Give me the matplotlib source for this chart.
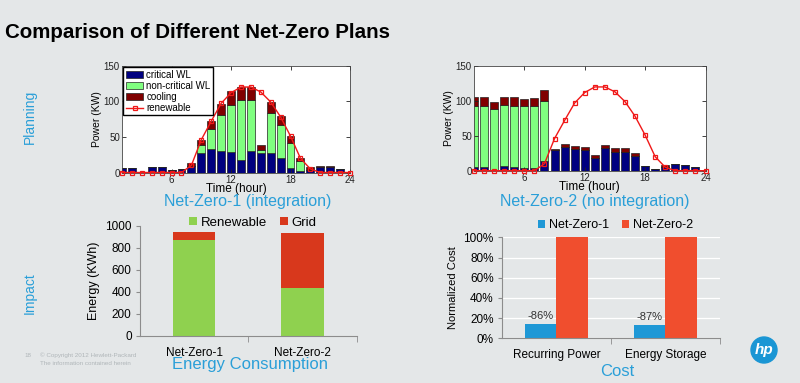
import numpy as np
import matplotlib
matplotlib.use('Agg')
from matplotlib import pyplot as plt
from matplotlib import font_manager
from matplotlib.patches import Circle
from matplotlib.ticker import PercentFormatter

plt.rcParams['font.family'] = ['Liberation Sans', 'DejaVu Sans']

# hourly power profiles (KW), hours 1..24
hours = list(range(1, 25))
renewable = [0, 0, 0, 0, 0, 0, 0, 10, 46, 72, 97, 112, 120, 120, 113, 99, 78, 51, 20, 5, 0, 0, 0, 0]

nz1_critical = [7, 6, 1, 8, 8, 3, 5, 9, 27, 33, 30, 29, 18, 30, 27, 27, 21, 6, 2, 4, 8, 8, 5, 1]
nz1_noncritical = [0, 0, 0, 0, 0, 0, 0, 0, 12, 28, 51, 66, 84, 72, 4, 57, 45, 36, 14, 0, 0, 0, 0, 0]
nz1_cooling = [0, 0, 0, 0, 0, 0, 0, 5, 7, 11, 15, 19, 18, 18, 7, 15, 13, 9, 4, 4, 1, 1, 0, 0]

nz2_critical = [6, 5, 0.5, 7, 6, 4, 4, 14, 29, 34, 31, 29, 18, 32, 27, 27, 21, 7, 3, 6, 9, 8, 5, 1]
nz2_noncritical = [87, 88, 88.5, 87, 87, 88, 88, 86, 0, 0, 0, 0, 0, 0, 0, 0, 0, 0, 0, 0, 0, 0, 0, 0]
nz2_cooling = [13, 12, 10, 12, 13, 10, 12, 15, 2, 4, 4, 5, 5, 5, 6, 6, 5, 0, 0, 2, 0, 0, 0, 0]

# energy consumption (KWh)
plans = ['Net-Zero-1', 'Net-Zero-2']
energy_renewable = [870, 430]
energy_grid = [75, 500]

# normalized cost
cost_items = ['Recurring Power', 'Energy Storage']
cost_nz1 = [0.14, 0.13]
cost_nz2 = [1.0, 1.0]
cost_notes = ['-86%', '-87%']

BG = '#e4e7e8'
HP_BLUE = '#2a9fd8'


def plot_power(ax, critical, noncritical, cooling, legend=False):
    h = np.array(hours)
    c = np.array(critical)
    n = np.array(noncritical)
    k = np.array(cooling)
    kw = dict(width=0.8, edgecolor='#222222', linewidth=0.5)
    b1 = ax.bar(h, c, color=(0, 0, .5), label='critical WL', **kw)
    b2 = ax.bar(h, n, bottom=c, color=(.5, 1, .5), label='non-critical WL', **kw)
    b3 = ax.bar(h, k, bottom=c + n, color=(.5, 0, 0), label='cooling', **kw)
    line, = ax.plot(h, renewable, '-s', color='#f01818', mfc='none', ms=3.5, mew=0.9, lw=1,
                    label='renewable', clip_on=False, zorder=5)
    ax.set_xlim(1, 24)
    ax.set_ylim(0, 150)
    ax.set_xticks([6, 12, 18, 24])
    ax.set_yticks([0, 50, 100, 150])
    ax.set_facecolor('white')
    ax.tick_params(direction='in', top=True, right=True, length=3, width=0.6,
                   labelsize=7, pad=1.5, colors='#222222')
    for s in ax.spines.values():
        s.set_linewidth(0.6)
        s.set_color('#444444')
    ax.set_xlabel('Time (hour)', fontsize=8.5, labelpad=-1)
    ax.set_ylabel('Power (KW)', fontsize=7.5, labelpad=1)
    if legend:
        ax.legend([b1, b2, b3, line], ['critical WL', 'non-critical WL', 'cooling', 'renewable'],
                  loc='upper left', fontsize=7, frameon=True, fancybox=False,
                  edgecolor='black', framealpha=1, borderpad=0.25, labelspacing=0.12,
                  handlelength=1.8, handleheight=0.7, handletextpad=0.3,
                  borderaxespad=0.15)


def style_bottom(ax):
    ax.set_facecolor('none')
    ax.spines['top'].set_visible(False)
    ax.spines['right'].set_visible(False)
    for s in ('left', 'bottom'):
        ax.spines[s].set_color('#8c8c8c')
        ax.spines[s].set_linewidth(0.8)
    ax.set_xlim(-0.5, 1.5)
    ax.set_xticks([0.5, 1.5], minor=True)
    ax.tick_params(axis='x', which='major', length=0, labelsize=8.5, pad=8)
    ax.tick_params(axis='x', which='minor', length=4, color='#8c8c8c')
    ax.tick_params(axis='y', length=3, color='#8c8c8c', labelsize=8.5, pad=3)


fig = plt.figure(figsize=(8, 3.83), dpi=100)
fig.patch.set_facecolor(BG)

# title
narrow = [f.name for f in font_manager.fontManager.ttflist if f.name == 'Liberation Sans Narrow']
if narrow:
    fig.text(0.006, 0.90, 'Comparison of Different Net-Zero Plans', fontsize=19,
             fontweight='bold', family='Liberation Sans Narrow')
else:
    fig.text(0.006, 0.90, 'Comparison of Different Net-Zero Plans', fontsize=14.8,
             fontweight='bold')

# side labels
fig.text(0.0375, 0.695, 'Planning', rotation=90, color=HP_BLUE, fontsize=10,
         ha='center', va='center')
fig.text(0.0375, 0.235, 'Impact', rotation=90, color=HP_BLUE, fontsize=10,
         ha='center', va='center')

# planning charts
ax1 = fig.add_axes([0.1525, 0.5496, 0.285, 0.279])
plot_power(ax1, nz1_critical, nz1_noncritical, nz1_cooling, legend=True)
ax2 = fig.add_axes([0.5925, 0.5543, 0.2894, 0.2734])
plot_power(ax2, nz2_critical, nz2_noncritical, nz2_cooling)

fig.text(0.31, 0.475, 'Net-Zero-1 (integration)', color=HP_BLUE, fontsize=11.5,
         ha='center', va='center')
fig.text(0.744, 0.475, 'Net-Zero-2 (no integration)', color=HP_BLUE, fontsize=11.5,
         ha='center', va='center')

# energy consumption
ax3 = fig.add_axes([0.175, 0.1235, 0.271, 0.2872])
x = np.arange(len(plans))
ax3.bar(x, energy_renewable, 0.39, color='#8fd14f', label='Renewable')
ax3.bar(x, energy_grid, 0.39, bottom=energy_renewable, color='#d8381c', label='Grid')
ax3.set_ylim(0, 1000)
ax3.set_yticks(range(0, 1001, 200))
ax3.set_xticks(x, plans)
style_bottom(ax3)
ax3.set_ylabel('Energy (KWh)', fontsize=9, labelpad=4)
ax3.legend(loc='center', bbox_to_anchor=(0.52, 1.025), ncol=2, frameon=False,
           fontsize=9.5, handlelength=0.6, handleheight=0.6, handletextpad=0.3,
           columnspacing=1.0)
fig.text(0.3125, 0.047, 'Energy Consumption', color=HP_BLUE, fontsize=12,
         ha='center', va='center')

# cost
ax4 = fig.add_axes([0.6275, 0.1167, 0.2725, 0.2637])
w = 0.285
ax4.bar(x - w / 2, cost_nz1, w, color='#1e98d6', label='Net-Zero-1')
ax4.bar(x + w / 2, cost_nz2, w, color='#f04e2e', label='Net-Zero-2')
for xi, v, note in zip(x, cost_nz1, cost_notes):
    ax4.text(xi - w / 2, v + 0.03, note, ha='center', va='bottom', fontsize=8, color='#333333')
ax4.set_ylim(0, 1)
ax4.set_yticks(np.arange(0, 1.01, 0.2))
ax4.yaxis.set_major_formatter(PercentFormatter(1.0, decimals=0))
ax4.set_xticks(x, cost_items)
style_bottom(ax4)
ax4.yaxis.grid(True, color='white', lw=0.9)
ax4.set_axisbelow(True)
ax4.set_ylabel('Normalized Cost', fontsize=8, labelpad=4)
ax4.legend(loc='center', bbox_to_anchor=(0.52, 1.12), ncol=2, frameon=False,
           fontsize=9, handlelength=0.6, handleheight=0.6, handletextpad=0.3,
           columnspacing=1.0)
fig.text(0.771, 0.029, 'Cost', color=HP_BLUE, fontsize=12, ha='center', va='center')

# footer
fig.text(0.03, 0.072, '18', color='#b0b6b9', fontsize=4.5, va='center')
fig.text(0.05, 0.072, '\u00a9 Copyright 2012 Hewlett-Packard', color='#b0b6b9',
         fontsize=4.5, va='center')
fig.text(0.05, 0.05, 'The information contained herein', color='#b0b6b9',
         fontsize=4.5, va='center')

# logo
fig.add_artist(Circle((7.64, 3.83 - 3.50), 0.13, transform=fig.dpi_scale_trans,
                      color='#1a96d4'))
fig.text(7.64 / 8, 1 - 350 / 383, 'hp', color='white', fontsize=11, fontweight='bold',
         style='italic', ha='center', va='center')

fig.savefig('out.png', dpi=100, facecolor=BG)
